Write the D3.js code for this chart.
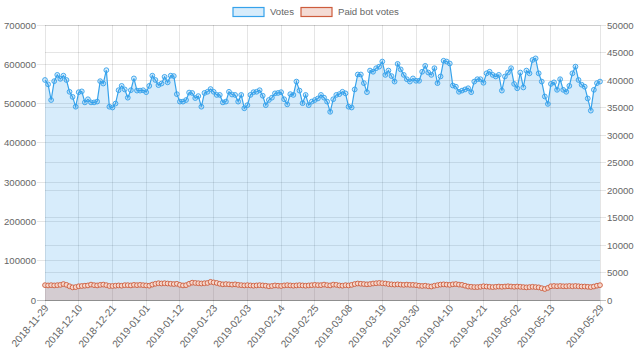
<!DOCTYPE html>
<html>
<head>
<meta charset="utf-8">
<script src="https://cdn.jsdelivr.net/npm/d3@7/dist/d3.min.js"></script>
<style>
  html, body { margin: 0; padding: 0; background: #fff; }
  svg { display: block; font-family: "Liberation Sans", Arial, Helvetica, sans-serif; }
</style>
</head>
<body>
<svg id="chart" width="640" height="361"></svg>
<script>
// ---- data ----
const startDate = "2018-11-29";
const dayCount = 182;
const seriesNames = ["Votes", "Paid bot votes"];
const votes = [
  560000, 549000, 509000, 557000, 573000, 563000, 571000, 560000, 530000, 517000,
  492000, 529000, 531000, 503000, 511000, 503000, 503000, 505000, 557000, 551000,
  585000, 492000, 490000, 500000, 534000, 545000, 536000, 515000, 534000, 564000,
  533000, 533000, 534000, 529000, 545000, 571000, 560000, 547000, 551000, 568000,
  554000, 571000, 570000, 524000, 505000, 505000, 509000, 528000, 527000, 514000,
  519000, 492000, 527000, 530000, 537000, 530000, 522000, 522000, 503000, 505000,
  530000, 523000, 522000, 505000, 522000, 488000, 496000, 522000, 529000, 530000,
  534000, 520000, 496000, 509000, 515000, 526000, 527000, 529000, 511000, 498000,
  524000, 522000, 556000, 533000, 501000, 522000, 496000, 505000, 509000, 513000,
  522000, 515000, 505000, 479000, 511000, 522000, 524000, 530000, 526000, 492000,
  490000, 536000, 574000, 574000, 552000, 529000, 584000, 581000, 590000, 594000,
  607000, 573000, 584000, 570000, 556000, 601000, 587000, 573000, 562000, 556000,
  564000, 558000, 558000, 581000, 596000, 579000, 573000, 590000, 552000, 569000,
  609000, 607000, 602000, 546000, 543000, 530000, 533000, 536000, 539000, 529000,
  556000, 562000, 562000, 553000, 577000, 581000, 573000, 569000, 573000, 533000,
  569000, 579000, 590000, 550000, 539000, 579000, 541000, 584000, 577000, 611000,
  615000, 577000, 556000, 518000, 499000, 550000, 554000, 535000, 562000, 535000,
  530000, 545000, 577000, 594000, 560000, 548000, 543000, 513000, 482000, 535000,
  552000, 556000
];
const botVotes = [
  2700, 2650, 2700, 2650, 2700, 2750, 2900, 2750,
  2500, 2300, 2350,
  2500, 2550, 2600, 2650, 2800, 2700, 2650, 2750, 2800, 2700, 2550, 2550, 2600, 2650, 2600, 2700, 2700, 2650, 2750, 2700, 2750, 2700, 2650, 2600,
  2800, 2950, 3050, 3000, 3050, 3000, 2950, 2900, 2950, 2750,
  2650, 2700,
  2950, 3150, 3100, 3050, 3000, 3050, 3100,
  3300, 3200,
  3100, 2950, 2850, 2900, 2850, 2800, 2850, 2750,
  2700, 2650, 2700, 2650, 2600, 2650, 2700, 2650, 2600, 2500, 2550, 2650, 2600, 2550, 2650, 2700, 2650, 2600, 2650, 2700, 2650, 2600, 2650, 2700, 2750, 2700,
  2700, 2800, 2700, 2650, 2800, 2750, 2650, 2600, 2700, 2650, 2750,
  2900, 3000, 2950, 2900, 2850, 2900, 3000, 3050, 3100, 3050, 3000, 2900,
  2850, 2800, 2850, 2800, 2750, 2800, 2750, 2750, 2700,
  2600, 2550, 2600, 2500, 2450, 2600, 2700,
  2800, 2850, 2800, 2750, 2850, 2900, 2800, 2750, 2600,
  2450, 2400, 2350, 2350, 2400, 2500, 2450, 2400, 2350, 2400, 2450, 2400, 2450,
  2500, 2450, 2400, 2450, 2400,
  2350, 2300, 2350, 2400, 2350, 2300, 2150, 2000, 2200,
  2500, 2550, 2500, 2550, 2500, 2500, 2550, 2500, 2550, 2500, 2450,
  2450, 2400, 2350, 2450,
  2600, 2700
];
const xTickLabels = ["2018-11-29","2018-12-10","2018-12-21","2019-01-01","2019-01-12","2019-01-23",
  "2019-02-03","2019-02-14","2019-02-25","2019-03-08","2019-03-19","2019-03-30","2019-04-10",
  "2019-04-21","2019-05-02","2019-05-13","2019-05-29"];
const leftTicks = [0, 100000, 200000, 300000, 400000, 500000, 600000, 700000];
const rightTicks = [0, 5000, 10000, 15000, 20000, 25000, 30000, 35000, 40000, 45000, 50000];

// ---- categories (one per day) ----
const fmt = d3.timeFormat("%Y-%m-%d");
const parse = d3.timeParse("%Y-%m-%d");
const d0 = parse(startDate);
const categories = d3.timeDay.range(d0, d3.timeDay.offset(d0, dayCount)).map(fmt);

// ---- layout ----
const L = 45, R = 600, T = 25, B = 300;
const svg = d3.select("#chart");
const x = d3.scalePoint().domain(categories).range([L, R]);
const yL = d3.scaleLinear().domain([0, 700000]).range([B, T]);
const yR = d3.scaleLinear().domain([0, 50000]).range([B, T]);

const blue = "rgb(54,162,235)";
const blueFill = "rgba(54,162,235,0.2)";
const red = "rgb(205,92,60)";
const redFill = "rgba(205,92,60,0.22)";
const gridC = "rgba(0,0,0,0.1)";
const textC = "#666";
const fs = 9.6;

// grid
const g = svg.append("g");
leftTicks.forEach(t => {
  g.append("line").attr("x1", L - 8).attr("x2", R).attr("y1", yL(t)).attr("y2", yL(t))
    .attr("stroke", t === 0 ? "rgba(0,0,0,0.25)" : gridC).attr("stroke-width", 1).attr("shape-rendering", "crispEdges");
});
rightTicks.forEach(t => {
  g.append("line").attr("x1", L).attr("x2", R + 6).attr("y1", yR(t)).attr("y2", yR(t))
    .attr("stroke", t === 0 ? "rgba(0,0,0,0.25)" : gridC).attr("stroke-width", 1).attr("shape-rendering", "crispEdges");
});
xTickLabels.forEach(lbl => {
  const xx = x(lbl);
  g.append("line").attr("x1", xx).attr("x2", xx).attr("y1", T).attr("y2", B + 8)
    .attr("stroke", gridC).attr("stroke-width", 1).attr("shape-rendering", "crispEdges");
});

// axes labels
const axL = svg.append("g").attr("transform", `translate(${L},0)`)
  .call(d3.axisLeft(yL).tickValues(leftTicks).tickSize(0).tickPadding(9).tickFormat(d3.format("d")));
const axR = svg.append("g").attr("transform", `translate(${R},0)`)
  .call(d3.axisRight(yR).tickValues(rightTicks).tickSize(0).tickPadding(7).tickFormat(d3.format("d")));
[axL, axR].forEach(a => {
  a.select(".domain").remove();
  a.selectAll("text").attr("fill", textC).attr("font-size", fs).attr("font-family", "Liberation Sans, Arial, sans-serif");
});

const axB = svg.append("g").attr("transform", `translate(0,${B})`)
  .call(d3.axisBottom(x).tickValues(xTickLabels).tickSize(0).tickPadding(0));
axB.select(".domain").remove();
axB.selectAll("text")
  .attr("fill", textC).attr("font-size", 10.2).attr("font-family", "Liberation Sans, Arial, sans-serif")
  .attr("text-anchor", "end")
  .attr("dy", "0.35em")
  .attr("transform", "translate(1,6) rotate(-50)")
  .attr("y", 0).attr("x", 0);

// series
const areaBot = d3.area().x((d, i) => x(categories[i])).y0(yR(0)).y1(d => yR(d));
const lineBot = d3.line().x((d, i) => x(categories[i])).y(d => yR(d));
const areaV = d3.area().x((d, i) => x(categories[i])).y0(yL(0)).y1(d => yL(d));
const lineV = d3.line().x((d, i) => x(categories[i])).y(d => yL(d));

svg.append("path").datum(votes).attr("d", areaV).attr("fill", blueFill);
svg.append("path").datum(botVotes).attr("d", areaBot).attr("fill", redFill);
svg.append("path").datum(botVotes).attr("d", lineBot).attr("fill", "none").attr("stroke", red).attr("stroke-width", 1.2);
svg.append("g").selectAll("circle").data(botVotes).join("circle")
  .attr("cx", (d, i) => x(categories[i])).attr("cy", d => yR(d)).attr("r", 2.4)
  .attr("fill", "rgba(245,215,205,1)").attr("stroke", red).attr("stroke-width", 0.9);

svg.append("path").datum(votes).attr("d", lineV).attr("fill", "none").attr("stroke", blue).attr("stroke-width", 1.2);
svg.append("g").selectAll("circle").data(votes).join("circle")
  .attr("cx", (d, i) => x(categories[i])).attr("cy", d => yL(d)).attr("r", 2.4)
  .attr("fill", "rgba(54,162,235,0.2)").attr("stroke", blue).attr("stroke-width", 0.9);

// legend
const legend = svg.append("g");
const items = [
  { name: seriesNames[0], fill: blueFill, stroke: blue, bx: 233, tx: 270 },
  { name: seriesNames[1], fill: redFill, stroke: red, bx: 301, tx: 338 }
];
items.forEach(it => {
  legend.append("rect").attr("x", it.bx).attr("y", 7.5).attr("width", 31).attr("height", 9)
    .attr("fill", it.fill).attr("stroke", it.stroke).attr("stroke-width", 1.2);
  legend.append("text").attr("x", it.tx).attr("y", 12).attr("dy", "0.35em")
    .attr("fill", textC).attr("font-size", fs).text(it.name);
});
</script>
</body>
</html>
